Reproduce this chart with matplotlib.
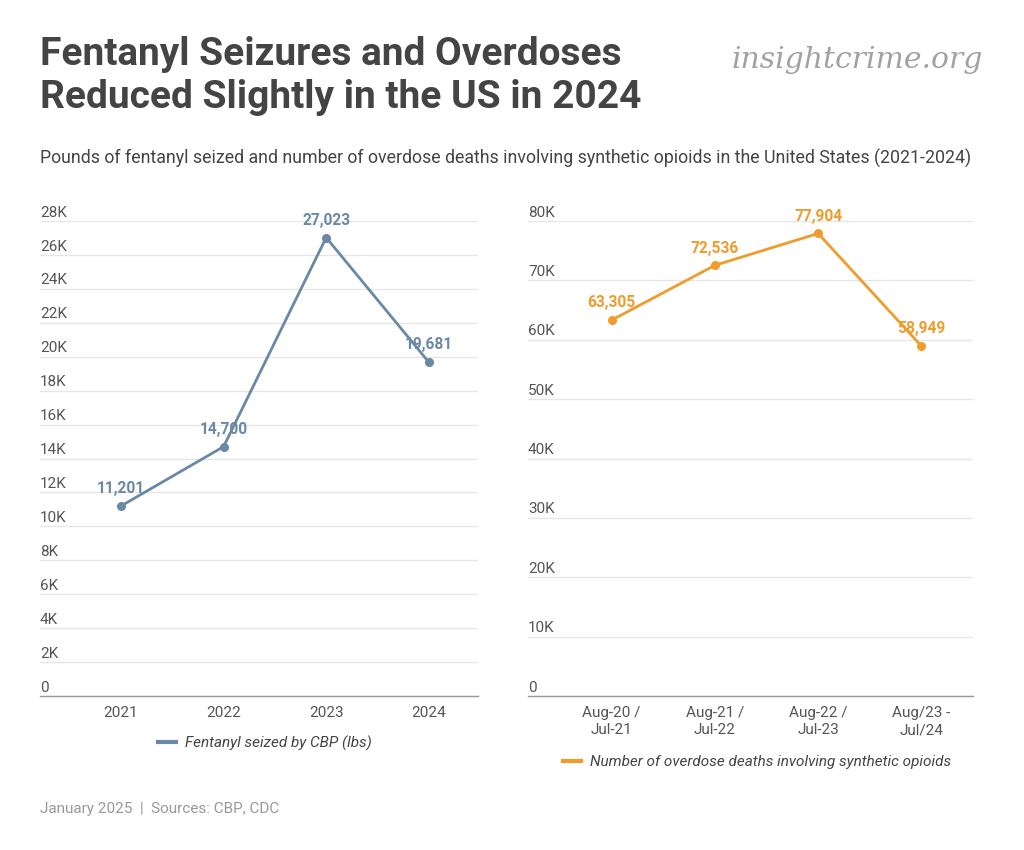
import matplotlib.pyplot as plt
import matplotlib.transforms as mtransforms
import numpy as np

plt.rcParams['font.family'] = ['Roboto', 'DejaVu Sans']

# data
years = ['2021', '2022', '2023', '2024']
seized_lbs = [11201, 14700, 27023, 19681]
periods = ['Aug-20 /\nJul-21', 'Aug-21 /\nJul-22', 'Aug-22 /\nJul-23', 'Aug/23 -\nJul/24']
overdose_deaths = [63305, 72536, 77904, 58949]
left_ticks = list(range(0, 28001, 2000))
right_ticks = list(range(0, 80001, 10000))

blue = '#6b89a6'
orange = '#f09c2c'
W, H = 1024, 850

fig = plt.figure(figsize=(W / 100, H / 100), dpi=100)
fig.patch.set_facecolor('white')


def px_axes(x0, y0, x1, y1):
    # pixel box -> figure fraction
    return fig.add_axes([x0 / W, 1 - y1 / H, (x1 - x0) / W, (y1 - y0) / H])


def style_axis(ax, ticks, xlabels, fmt):
    ax.set_ylim(0, ticks[-1])
    ax.set_yticks(ticks)
    ax.set_yticklabels([])
    ax.tick_params(axis='y', length=0)
    ax.tick_params(axis='x', length=0, pad=7, labelsize=11, labelcolor='#555555')
    ax.set_xticks(range(len(xlabels)))
    ax.set_xticklabels(xlabels, linespacing=1.3)
    for s in ['top', 'right', 'left']:
        ax.spines[s].set_visible(False)
    ax.spines['bottom'].set_color('#999999')
    ax.spines['bottom'].set_linewidth(1.0)
    ax.grid(axis='y', color='#e6e6e6', linewidth=0.9)
    ax.set_axisbelow(True)
    tr = mtransforms.blended_transform_factory(ax.transAxes, ax.transData)
    off = mtransforms.offset_copy(tr, fig=fig, x=0, y=1, units='points')
    for t in ticks:
        ax.text(0, t, fmt(t), transform=off, ha='left', va='bottom',
                fontsize=11, color='#555555')


def label_points(ax, vals, color):
    for i, v in enumerate(vals):
        ax.annotate(f'{v:,}', (i, v), xytext=(0, 7), textcoords='offset points',
                    ha='center', va='bottom', fontsize=11.2, fontweight='bold',
                    color=color)


ax1 = px_axes(40, 221, 478, 696)
style_axis(ax1, left_ticks, years, lambda t: '0' if t == 0 else f'{t // 1000}K')
ax1.plot(range(4), seized_lbs, color=blue, lw=2, marker='o', ms=5.5)
label_points(ax1, seized_lbs, blue)
ax1.set_xlim(-0.79, 3.48)

ax2 = px_axes(528, 221, 973, 696)
style_axis(ax2, right_ticks, periods, lambda t: '0' if t == 0 else f'{t // 1000}K')
ax2.plot(range(4), overdose_deaths, color=orange, lw=2, marker='o', ms=5.5)
label_points(ax2, overdose_deaths, orange)
ax2.set_xlim(-0.81, 3.5)

# legends
fig.legend(handles=[plt.Line2D([], [], color=blue, lw=3)],
           labels=['Fentanyl seized by CBP (lbs)'],
           loc='center', bbox_to_anchor=(265 / W, 1 - 743 / H), frameon=False,
           prop={'size': 11, 'style': 'italic'}, labelcolor='#444444',
           handlelength=1.2, handletextpad=0.6)
fig.legend(handles=[plt.Line2D([], [], color=orange, lw=3)],
           labels=['Number of overdose deaths involving synthetic opioids'],
           loc='center', bbox_to_anchor=(757 / W, 1 - 762 / H), frameon=False,
           prop={'size': 11, 'style': 'italic'}, labelcolor='#444444',
           handlelength=1.2, handletextpad=0.6)

# titles and notes
fig.text(40 / W, 1 - 36 / H, 'Fentanyl Seizures and Overdoses\nReduced Slightly in the US in 2024',
         ha='left', va='top', fontsize=28, fontweight='bold', color='#444444',
         linespacing=1.2)
fig.text(983 / W, 1 - 60 / H, 'insightcrime.org', ha='right', va='center',
         fontsize=21.5, style='italic', family='DejaVu Serif', color='#a2a2a2')
fig.text(40 / W, 1 - 158 / H,
         'Pounds of fentanyl seized and number of overdose deaths involving synthetic opioids in the United States (2021-2024)',
         ha='left', va='center', fontsize=12.8, color='#444444')
fig.text(40 / W, 1 - 809 / H, 'January 2025  |  Sources: CBP, CDC',
         ha='left', va='center', fontsize=11, color='#999999')

fig.savefig('out.png', dpi=100, facecolor='white')
